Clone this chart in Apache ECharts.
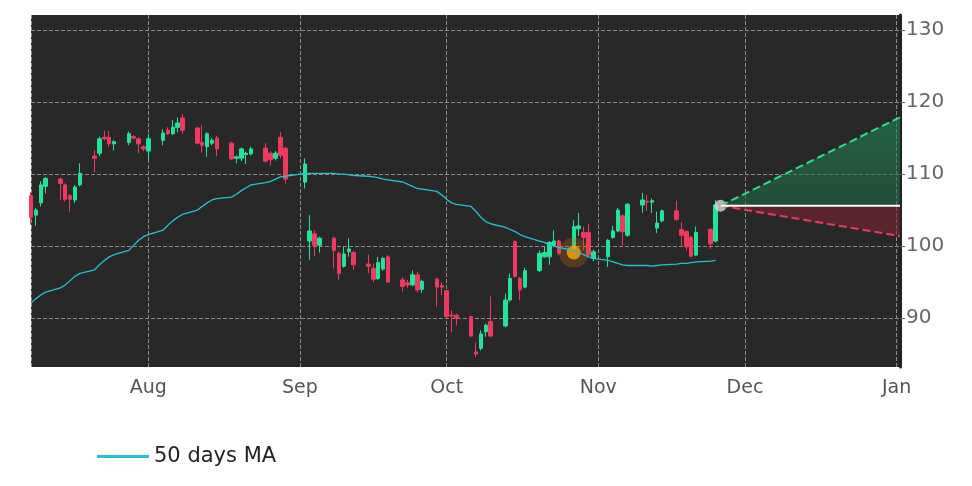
<!DOCTYPE html>
<html><head><meta charset="utf-8">
<script src="https://cdn.jsdelivr.net/npm/echarts@6/dist/echarts.min.js"></script>
<style>html,body{margin:0;padding:0;background:#fff}#c{width:972px;height:486px}</style>
</head><body><div id="c"></div>
<script>
const dates = [
"2025-07-08","2025-07-09","2025-07-10","2025-07-11","2025-07-14","2025-07-15","2025-07-16","2025-07-17","2025-07-18",
"2025-07-21","2025-07-22","2025-07-23","2025-07-24","2025-07-25","2025-07-28","2025-07-29","2025-07-30","2025-07-31",
"2025-08-01","2025-08-04","2025-08-05","2025-08-06","2025-08-07","2025-08-08","2025-08-11","2025-08-12","2025-08-13",
"2025-08-14","2025-08-15","2025-08-18","2025-08-19","2025-08-20","2025-08-21","2025-08-22","2025-08-25","2025-08-26",
"2025-08-27","2025-08-28","2025-08-29","2025-09-02","2025-09-03","2025-09-04","2025-09-05","2025-09-08","2025-09-09",
"2025-09-10","2025-09-11","2025-09-12","2025-09-15","2025-09-16","2025-09-17","2025-09-18","2025-09-19","2025-09-22",
"2025-09-23","2025-09-24","2025-09-25","2025-09-26","2025-09-29","2025-09-30","2025-10-01","2025-10-02","2025-10-03",
"2025-10-06","2025-10-07","2025-10-08","2025-10-09","2025-10-10","2025-10-13","2025-10-14","2025-10-15","2025-10-16",
"2025-10-17","2025-10-20","2025-10-21","2025-10-22","2025-10-23","2025-10-24","2025-10-27","2025-10-28","2025-10-29",
"2025-10-30","2025-10-31","2025-11-03","2025-11-04","2025-11-05","2025-11-06","2025-11-07","2025-11-10","2025-11-11",
"2025-11-12","2025-11-13","2025-11-14","2025-11-17","2025-11-18","2025-11-19","2025-11-20","2025-11-21","2025-11-24","2025-11-25"];
const opens = [107,104.3,106,108.3,109.3,108.5,107,106.4,108.5,
112.5,112.9,115.1,115.1,114.2,114.4,115.2,114.9,113.8,
113.2,114.7,116.1,115.6,116.5,117.8,116.4,114.4,113.8,
114.3,115,114.3,112.2,112.2,112.7,112.8,113.6,112.9,
112.2,115.1,113.6,108.9,100.7,101.7,100.1,101.1,99,
97.2,99.2,99.1,97.5,96.9,95.5,96.8,98.5,95.3,
94.9,94.6,96,94,95.4,94.5,93.8,90.4,90.4,
90.2,85.3,85.8,88.1,89.5,88.9,92.5,100.6,95.5,
94.3,96.6,98.5,98.5,100.1,100.7,99.7,102.4,101.9,
101.9,98.3,98.5,101.2,102.1,104.2,101.5,105.7,106.2,
106.1,102.5,103.5,104.9,102.3,102,101.2,98.75,102.3,100.7];
const closes = [104,105,108.5,109.4,108.7,106.5,106.5,108.2,110.1,
112.2,114.9,114.9,114.2,114.5,115.6,115,114.2,113.5,
114.9,115.7,115.6,116.5,117.1,116.1,114.3,114,115.6,
114.7,113.5,112.1,112.4,113.5,112.9,113.5,111.8,112,
112.9,112.6,109.3,111.4,102.1,100.1,101.1,99.4,96.2,
98.9,99.6,97.4,97.2,95.4,97.7,98.3,95,94.4,
94.6,96,93.9,95.1,94.3,94.3,90.2,90.3,90,
87.5,85,87.8,89,87.5,92.5,95.5,95.8,93.9,
96.6,99,99.1,100.5,100.7,99,102.7,102.8,101.2,
98.75,99.2,100.8,102.1,105,102,105.8,106.4,106.1,
106.3,103.2,104.9,103.7,101.5,99.9,98.6,101.9,100.3,105.7];
const lows = [103,102.8,105.5,107.3,106.4,106.2,104.8,106,108.3,
110.3,112.5,114.7,113.8,113.3,114,114.8,112.9,113.2,
112,114,115.4,115.4,115.8,115.6,114.1,113,112.4,
114,112.5,112,111.5,111.8,111.4,112.6,111.6,111.2,
111.9,112.2,108.7,108,98.1,98.6,99.1,96.9,95.3,
97,98.5,96.7,96.2,95,95.3,96.6,94.9,93.7,
94.2,94.4,93.6,93.5,91.6,93.2,90,88,89,
87.3,84.6,85.5,87.4,87.3,88.7,92.3,95.6,92.5,
94.1,96.4,98.4,97.4,99.9,98.8,99.5,101.4,99.4,
98.6,97.9,97.1,101,101.9,100.1,101.3,104.6,104.9,
104.6,101.8,103.3,103.5,99.9,99.4,98.4,98.6,99.6,100.5];
const highs = [107.5,105.3,109,109.6,109.5,108.7,107.2,108.5,111.5,
113.3,115.2,116,116,114.7,115.9,115.4,115.1,114,
115.6,116.2,116.5,117.5,117.9,118.3,116.6,116.8,115.8,
115,115.3,114.5,112.6,113.7,113.1,113.8,114.3,113.2,
113.2,115.8,113.8,112.2,104.3,102.2,101.3,101.3,99.2,
99.9,101.1,99.3,98.8,97.6,98.5,98.5,98.75,95.7,
95.3,96.6,96.4,95.3,95.6,95,93.9,91.1,90.6,
90.3,86.6,88.3,89.2,93,93.4,96.2,100.8,95.7,
97,99.4,99.9,100.7,102.2,100.9,103.6,104.6,102.7,
103.1,99.5,101,102.8,105.3,104.4,106,107.4,107.1,
106.6,104.8,105.1,106.3,103.3,102.2,101.4,102.7,102.5,106.4];
const ma50 = [92.1,92.7,93.2,93.6,94.2,94.6,95.2,95.8,96.2,
96.7,97.4,98.0,98.5,98.8,99.4,100.1,100.8,101.3,
101.6,102.2,102.9,103.5,104.0,104.4,105.0,105.5,106.0,
106.4,106.6,106.8,107.2,107.7,108.1,108.5,108.8,109.0,
109.3,109.6,109.7,110.1,110.1,110.1,110.1,110.1,110.0,
110.0,109.9,109.8,109.7,109.6,109.5,109.3,109.2,108.9,
108.6,108.3,108.0,107.9,107.6,107.1,106.5,106.0,105.8,
105.5,104.8,104.0,103.4,103.1,102.6,102.3,102.0,101.6,
101.3,100.7,100.5,100.2,100.0,99.8,99.4,99.1,98.8,
98.5,98.3,98.0,97.8,97.6,97.4,97.3,97.3,97.3,
97.2,97.3,97.4,97.5,97.6,97.6,97.7,97.8,97.9,98.0];
const projDates = ["2025-11-26","2026-01-01T17:00"];
const projBase = [105.6,105.6];
const projUpper = [105.6,117.9];
const projLower = [105.6,101.4];
const signalPoint = ["2025-10-27",99.1];
const lastPoint = ["2025-11-26",105.6];
const yTicks = [90,100,110,120,130];
const months = ["Jan","Feb","Mar","Apr","May","Jun","Jul","Aug","Sep","Oct","Nov","Dec"];

const candles = dates.map((d,i)=>[d,opens[i],closes[i],lows[i],highs[i]]);
const zip = (xs,ys)=>xs.map((x,i)=>[x,ys[i]]);
const chart = echarts.init(document.getElementById('c'));
chart.setOption({
  animation:false,
  backgroundColor:'#ffffff',
  grid:{left:31,right:72,top:15,bottom:119,show:true,backgroundColor:'#282828',borderWidth:0},
  legend:{left:92,top:441,itemWidth:52,itemHeight:14,itemGap:10,
    textStyle:{fontSize:21,color:'#222',fontFamily:'DejaVu Sans'},
    data:[{name:'50 days MA',icon:'path://M0,0L10,0L10,0.6L0,0.6Z'}]},
  xAxis:{type:'time',min:'2025-07-08',max:'2026-01-01T17:00',
    axisLine:{show:false},axisTick:{show:false},
    splitLine:{show:true,lineStyle:{color:'#8a8a8a',type:'dashed',width:1}},
    axisLabel:{color:'#555',fontSize:19,fontFamily:'DejaVu Sans',margin:12,
      formatter:v=>{const d=new Date(v);return d.getDate()===1?months[d.getMonth()]:'';}}},
  yAxis:{type:'value',position:'right',min:83.2,max:132.1,
    axisLine:{show:true,lineStyle:{color:'#222',width:3}},
    axisTick:{show:true,length:5,lineStyle:{color:'#666'},customValues:yTicks},
    splitLine:{show:true,lineStyle:{color:'#8a8a8a',type:'dashed',width:1}},
    axisLabel:{color:'#666',fontSize:20,fontFamily:'DejaVu Sans',margin:6,customValues:yTicks}},
  series:[
    {type:'line',name:'pb',data:zip(projDates,projBase),stack:'up',symbol:'none',lineStyle:{opacity:0},silent:true},
    {type:'line',name:'pu',data:zip(projDates,projUpper.map((v,i)=>v-projBase[i])),stack:'up',symbol:'none',lineStyle:{opacity:0},
      areaStyle:{color:new echarts.graphic.LinearGradient(0,0,0,1,[{offset:0,color:'rgba(30,140,90,0.85)'},{offset:1,color:'rgba(30,110,70,0.75)'}])},silent:true},
    {type:'line',name:'pl',data:zip(projDates,projLower),stack:'dn',symbol:'none',lineStyle:{opacity:0},silent:true},
    {type:'line',name:'pd',data:zip(projDates,projBase.map((v,i)=>v-projLower[i])),stack:'dn',symbol:'none',lineStyle:{opacity:0},
      areaStyle:{color:'rgba(120,35,50,0.85)'},silent:true},
    {type:'line',data:zip(projDates,projUpper),symbol:'none',lineStyle:{color:'#2edc8c',type:'dashed',width:2}},
    {type:'line',data:zip(projDates,projLower),symbol:'none',lineStyle:{color:'#ee3a5c',type:'dashed',width:2}},
    {type:'line',data:zip(projDates,projBase),symbol:'none',lineStyle:{color:'#ffffff',width:2}},
    {type:'candlestick',data:candles,barMaxWidth:5,barWidth:4,
      itemStyle:{color:'#22e39a',color0:'#f0395e',borderColor:'#22e39a',borderColor0:'#f0395e',borderWidth:1}},
    {type:'line',name:'50 days MA',data:zip(dates,ma50),symbol:'none',color:'#1fc3d3',lineStyle:{color:'#1fc3d3',width:1.3}},
    {type:'scatter',data:[signalPoint],symbolSize:30,itemStyle:{color:'rgba(200,110,20,0.35)'},silent:true},
    {type:'scatter',data:[signalPoint],symbolSize:14,itemStyle:{color:'#ffa500'}},
    {type:'scatter',data:[lastPoint],symbolSize:12,itemStyle:{color:'#d8d8d8'}}
  ]
});
</script></body></html>
